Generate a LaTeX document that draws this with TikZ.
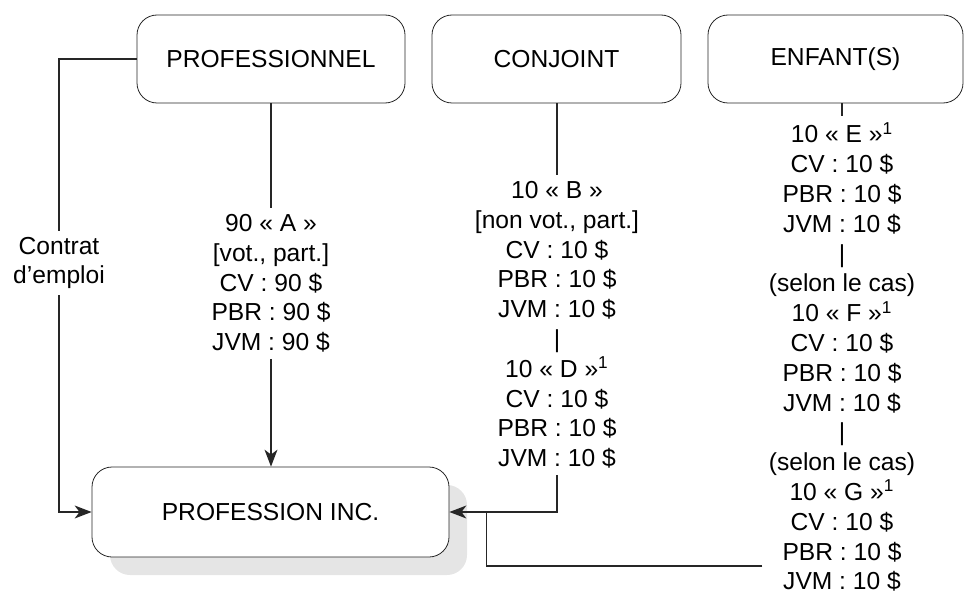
\documentclass[tikz,border=0pt]{standalone}
\usepackage{fontspec}
\setmainfont{Liberation Sans}
\usetikzlibrary{arrows.meta, positioning, shadows}
\tikzset{
  boite/.style={draw=black!85, fill=white, rounded corners=10pt, minimum width=#1, minimum height=44pt, inner sep=0pt, font=\fontsize{12.3}{14.9}\selectfont},
  boite/.default=134pt,
  bloc/.style={align=center, inner sep=3pt, anchor=north, font=\fontsize{12.3}{14.9}\selectfont},
  lien/.style={draw=black!85, line width=0.6pt},
  fleche/.style={lien, -{Stealth[length=8.5pt, width=6.5pt, inset=2.5pt]}}
}

\begin{document}
\begin{tikzpicture}[x=0.5pt, y=-0.5pt]
\useasboundingbox (0,0) rectangle (964,599);

\node[boite] (prof) at (271,59) {PROFESSIONNEL};
\node[boite=124.5pt] (conj) at (556.5,59) {CONJOINT};
\node[boite=127.5pt] (enf) at (835.5,59) {ENFANT(S)};
\node[boite=178.5pt, minimum height=45pt,
  drop shadow={shadow xshift=9pt, shadow yshift=-9pt, fill=black!10, opacity=1}] (inc) at (270.5,512) {PROFESSION INC.};

\node[bloc] (blocA) at (271,208) {90 « A »\\{[vot., part.]}\\CV : 90 \$\\PBR : 90 \$\\JVM : 90 \$};
\node[bloc] (blocB) at (557,175) {10 « B »\\{[non vot., part.]}\\CV : 10 \$\\PBR : 10 \$\\JVM : 10 \$\\|\\10 « D »\textsuperscript{1}\\CV : 10 \$\\PBR : 10 \$\\JVM : 10 \$};
\node[bloc] (blocE) at (842,116) {10 « E »\textsuperscript{1}\\CV : 10 \$\\PBR : 10 \$\\JVM : 10 \$\\|\\(selon le cas)\\10 « F »\textsuperscript{1}\\CV : 10 \$\\PBR : 10 \$\\JVM : 10 \$\\|\\(selon le cas)\\10 « G »\textsuperscript{1}\\CV : 10 \$\\PBR : 10 \$\\JVM : 10 \$};

\coordinate (coude) at (59,59);
\draw[fleche] (prof.west) -- (coude) |- (inc.west);
\node[bloc, anchor=center, fill=white] (contrat) at (59,263) {Contrat\\d’emploi};

\draw[lien] (prof) -- (blocA);
\draw[fleche] (blocA) -- (blocA |- inc.north);

\draw[lien] (conj.south -| blocB) -- (blocB);
\draw[fleche] (blocB) |- (inc.east);

\draw[lien] (enf.south -| blocE) -- (blocE);
\draw[lien] ([yshift=16pt]blocE.south west) -| ([xshift=18.5pt]inc.east);
\end{tikzpicture}
\end{document}
